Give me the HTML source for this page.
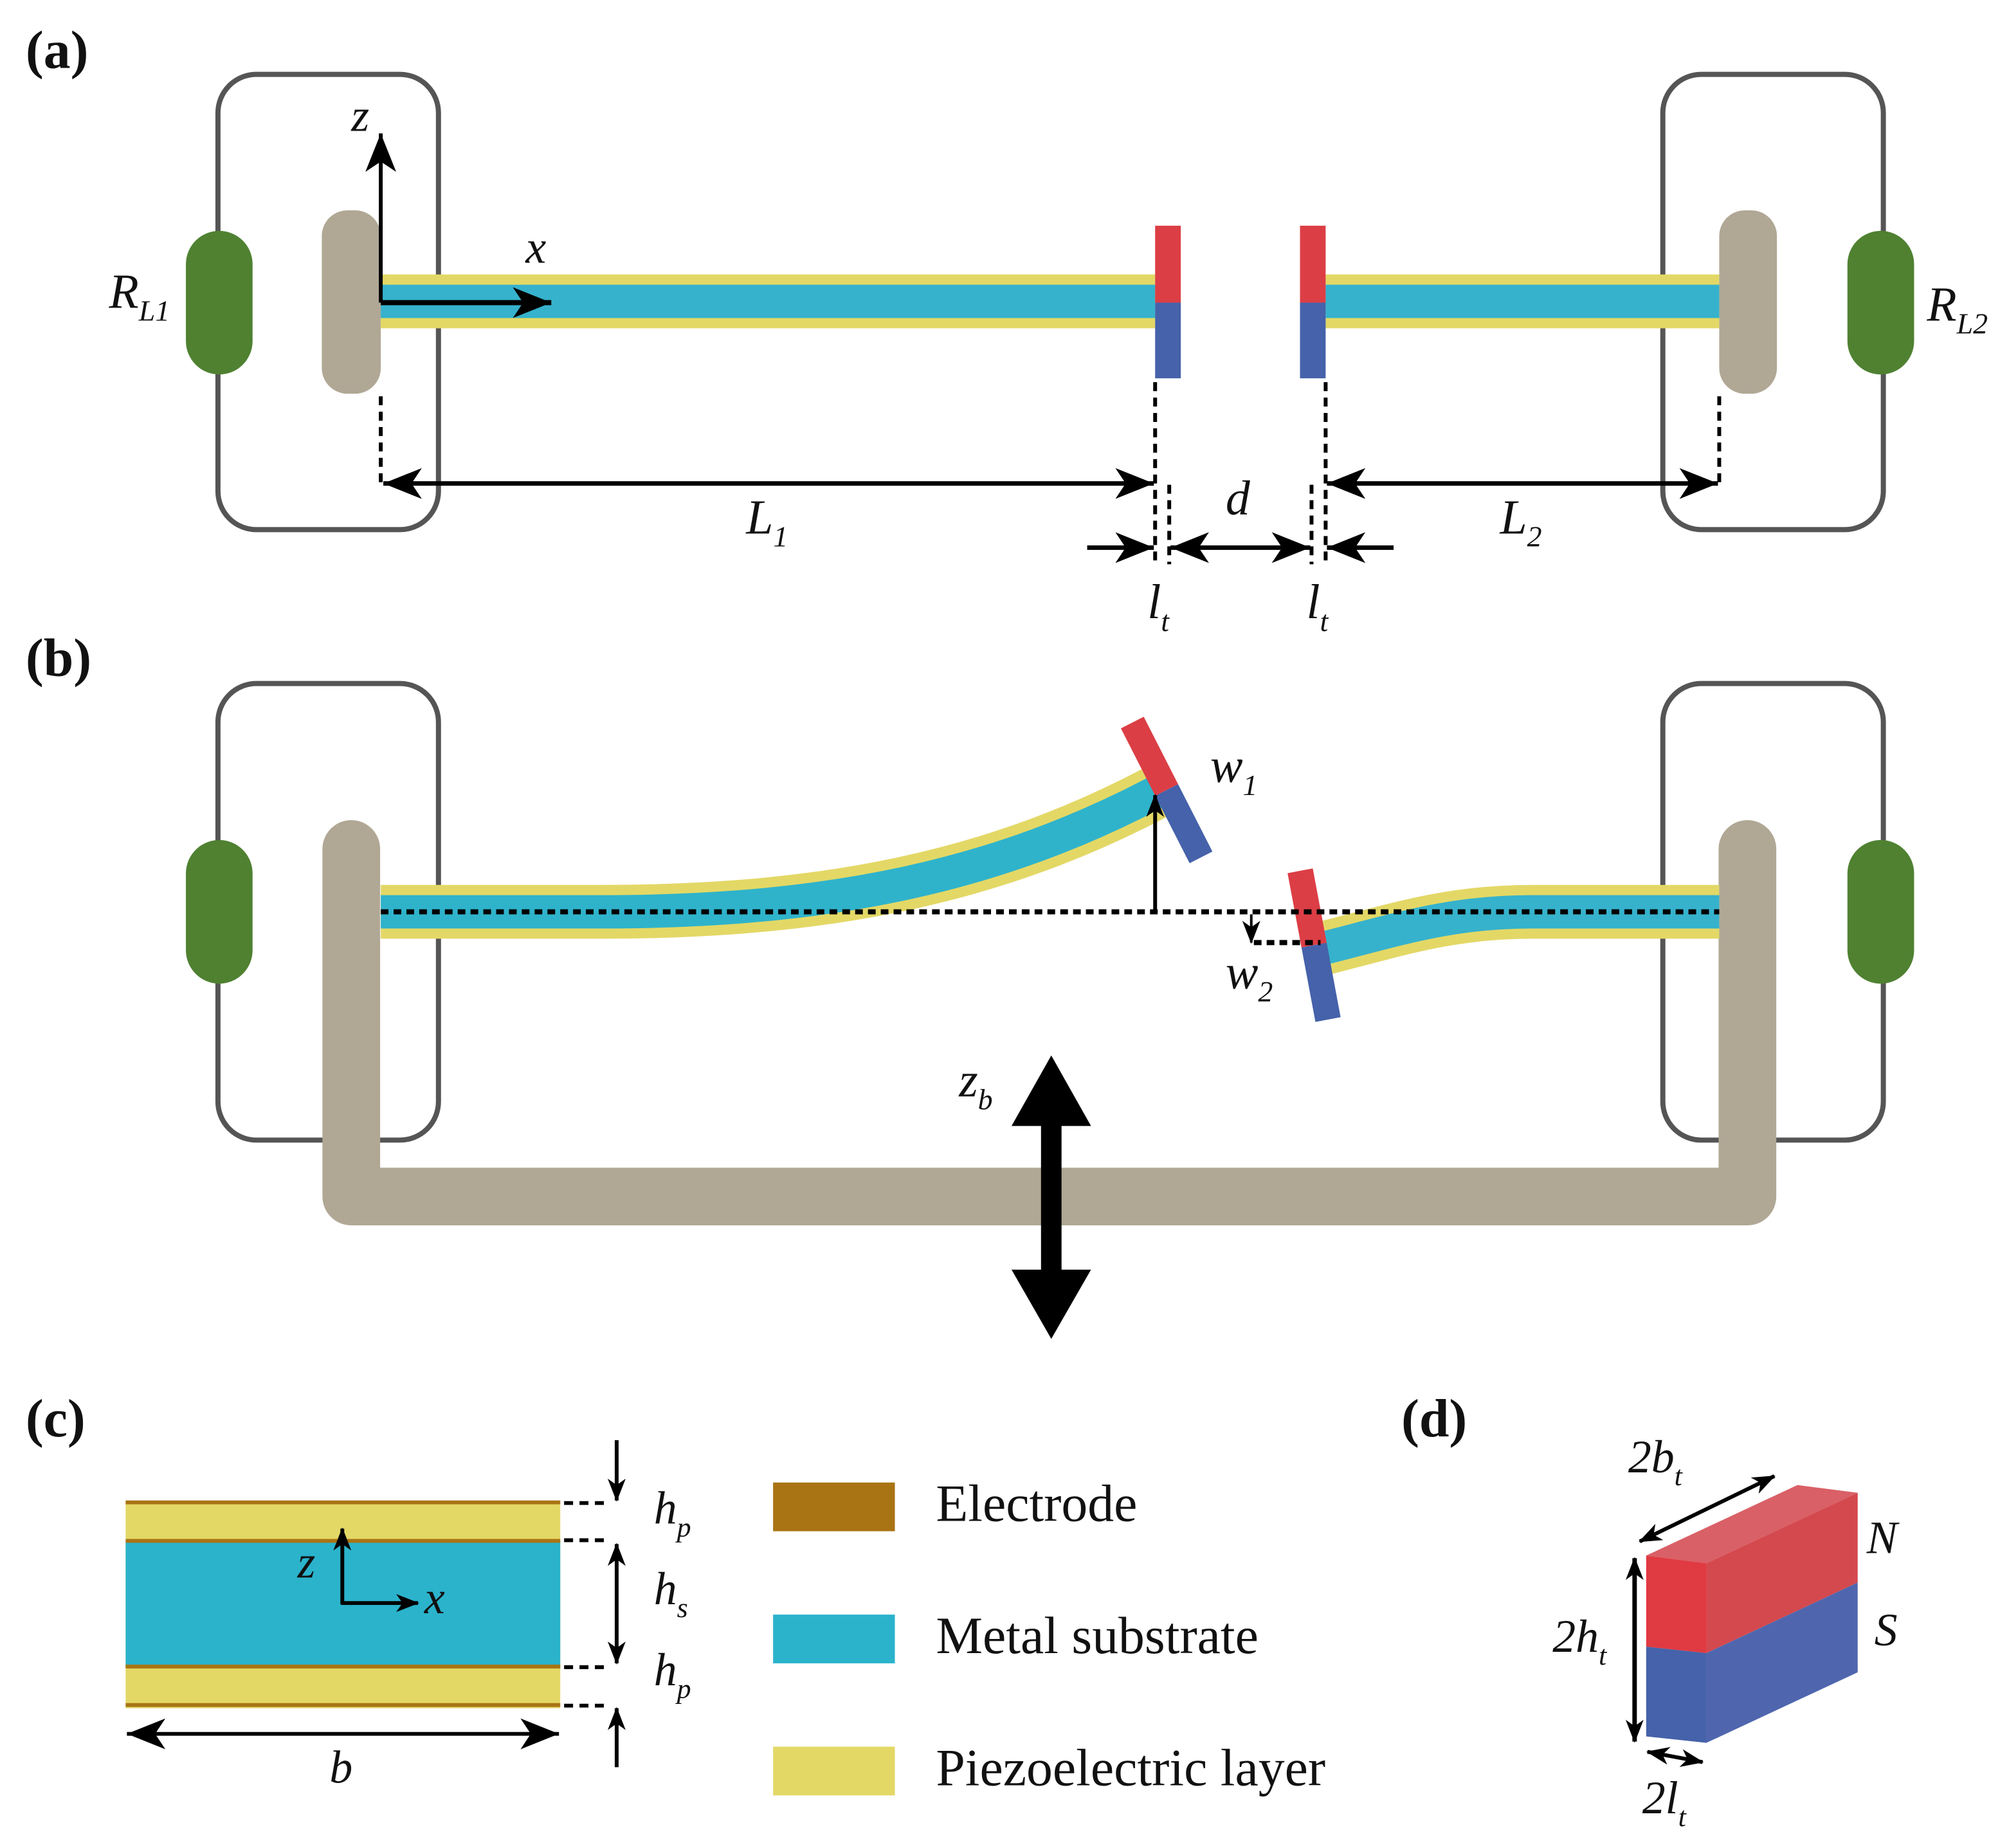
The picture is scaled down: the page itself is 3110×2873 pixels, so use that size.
<!DOCTYPE html>
<html><head><meta charset="utf-8"><style>html,body{margin:0;padding:0;background:#fff}svg{display:block}
text{font-family:"Liberation Serif",serif;fill:#111}
.i{font-style:italic}
</style></head><body>
<svg width="3110" height="2873" viewBox="0 0 1560 1441" preserveAspectRatio="none" xmlns="http://www.w3.org/2000/svg">
<defs>
<marker id="ah" markerUnits="userSpaceOnUse" markerWidth="34" markerHeight="30" refX="30" refY="15" orient="auto-start-reverse"><path d="M0,3 L30,15 L0,27 L8,15 Z" fill="#000"/></marker>
<marker id="as" markerUnits="userSpaceOnUse" markerWidth="20" markerHeight="20" refX="17" refY="10" orient="auto-start-reverse"><path d="M0,3 L18,10 L0,17 L5,10 Z" fill="#000"/></marker>
</defs>
<rect width="1560" height="1441" fill="#fff"/>

<!-- (a) -->
<text x="20" y="53" font-size="42" font-weight="bold">(a)</text>
<rect x="170" y="58" width="172" height="355" rx="30" fill="none" stroke="#555" stroke-width="4"/>
<rect x="1297" y="58" width="172" height="355" rx="30" fill="none" stroke="#555" stroke-width="4"/>
<rect x="145" y="180" width="52" height="112" rx="26" fill="#4f8131"/>
<rect x="1441" y="180" width="52" height="112" rx="26" fill="#4f8131"/>
<rect x="251" y="164" width="46" height="143" rx="20" fill="#b0a895"/>
<rect x="1341" y="164" width="45" height="143" rx="20" fill="#b0a895"/>
<rect x="297" y="214" width="604" height="42" fill="#e3d866"/>
<rect x="297" y="222" width="604" height="26" fill="#36b2cc"/>
<rect x="1034" y="214" width="307" height="42" fill="#e3d866"/>
<rect x="1034" y="222" width="307" height="26" fill="#36b2cc"/>
<rect x="901" y="176" width="20" height="60" fill="#dc3e45"/>
<rect x="901" y="236" width="20" height="59" fill="#4562aa"/>
<rect x="1014" y="176" width="20" height="60" fill="#dc3e45"/>
<rect x="1014" y="236" width="20" height="59" fill="#4562aa"/>
<line x1="297" y1="236" x2="297" y2="104" stroke="#000" stroke-width="3" marker-end="url(#ah)"/>
<line x1="297" y1="236" x2="430" y2="236" stroke="#000" stroke-width="4" marker-end="url(#ah)"/>
<text x="274" y="102" font-size="36" class="i">z</text>
<text x="410" y="205" font-size="36" class="i">x</text>
<text x="85" y="240" font-size="38" class="i">R<tspan font-size="23" dy="10">L1</tspan></text>
<text x="1503" y="250" font-size="38" class="i">R<tspan font-size="23" dy="10">L2</tspan></text>
<g stroke="#000" stroke-width="3" stroke-dasharray="7,5" fill="none">
<line x1="297" y1="309" x2="297" y2="378"/>
<line x1="901" y1="298" x2="901" y2="440"/>
<line x1="912" y1="378" x2="912" y2="440"/>
<line x1="1023" y1="378" x2="1023" y2="440"/>
<line x1="1034" y1="298" x2="1034" y2="440"/>
<line x1="1341" y1="309" x2="1341" y2="378"/>
</g>
<line x1="299" y1="377" x2="900" y2="377" stroke="#000" stroke-width="3.5" marker-start="url(#ah)" marker-end="url(#ah)"/>
<line x1="1035" y1="377" x2="1340" y2="377" stroke="#000" stroke-width="3.5" marker-start="url(#ah)" marker-end="url(#ah)"/>
<line x1="913" y1="427" x2="1022" y2="427" stroke="#000" stroke-width="3.5" marker-start="url(#ah)" marker-end="url(#ah)"/>
<line x1="848" y1="427" x2="900" y2="427" stroke="#000" stroke-width="3.5" marker-end="url(#ah)"/>
<line x1="1087" y1="427" x2="1035" y2="427" stroke="#000" stroke-width="3.5" marker-end="url(#ah)"/>
<text x="582" y="416" font-size="38" class="i">L<tspan font-size="23" dy="10">1</tspan></text>
<text x="1170" y="416" font-size="38" class="i">L<tspan font-size="23" dy="10">2</tspan></text>
<text x="956" y="401" font-size="38" class="i">d</text>
<text x="895" y="482" font-size="38" class="i">l<tspan font-size="23" dy="10">t</tspan></text>
<text x="1019" y="482" font-size="38" class="i">l<tspan font-size="23" dy="10">t</tspan></text>

<!-- (b) -->
<text x="20" y="527" font-size="42" font-weight="bold">(b)</text>
<rect x="170" y="533" width="172" height="356" rx="30" fill="none" stroke="#555" stroke-width="4"/>
<rect x="1297" y="533" width="172" height="356" rx="30" fill="none" stroke="#555" stroke-width="4"/>
<rect x="145" y="655" width="52" height="112" rx="26" fill="#4f8131"/>
<rect x="1441" y="655" width="52" height="112" rx="26" fill="#4f8131"/>
<path d="M274,662 L274,933 L1363,933 L1363,662" fill="none" stroke="#b0a895" stroke-width="45" stroke-linecap="round" stroke-linejoin="round"/>
<path d="M297,711 L470,711 C650,711 780,682 903,617" fill="none" stroke="#e3d866" stroke-width="42"/>
<path d="M297,711 L470,711 C650,711 780,682 903,617" fill="none" stroke="#2fb3cb" stroke-width="26"/>
<path d="M1341,711 L1195,711 C1130,711 1090,725 1030,740" fill="none" stroke="#e3d866" stroke-width="42"/>
<path d="M1341,711 L1195,711 C1130,711 1090,725 1030,740" fill="none" stroke="#36b2cc" stroke-width="26"/>
<g transform="translate(910,616) rotate(-27)">
<rect x="-10" y="-59" width="20" height="59" fill="#dc3e45"/>
<rect x="-10" y="0" width="20" height="59" fill="#4562aa"/>
</g>
<g transform="translate(1025,737) rotate(-10.6)">
<rect x="-10" y="-59" width="20" height="59" fill="#dc3e45"/>
<rect x="-10" y="0" width="20" height="59" fill="#4562aa"/>
</g>
<line x1="297" y1="711" x2="1341" y2="711" stroke="#000" stroke-width="4" stroke-dasharray="6,4"/>
<line x1="901" y1="711" x2="901" y2="620" stroke="#000" stroke-width="3" marker-end="url(#as)"/>
<line x1="976" y1="713" x2="976" y2="735" stroke="#000" stroke-width="2" marker-end="url(#as)"/>
<line x1="978" y1="735" x2="1030" y2="735" stroke="#000" stroke-width="4" stroke-dasharray="6,4"/>
<text x="944" y="610" font-size="38" class="i">w<tspan font-size="23" dy="10">1</tspan></text>
<text x="956" y="771" font-size="38" class="i">w<tspan font-size="23" dy="10">2</tspan></text>
<path d="M820,823 L851,878 L828,878 L828,990 L851,990 L820,1044 L789,990 L812,990 L812,878 L789,878 Z" fill="#000"/>
<text x="748" y="855" font-size="38" class="i">z<tspan font-size="23" dy="10">b</tspan></text>

<!-- (c) -->
<text x="20" y="1120" font-size="42" font-weight="bold">(c)</text>
<rect x="98" y="1171" width="339" height="161" fill="#e3d866"/>
<rect x="98" y="1202" width="339" height="98" fill="#2bb3cc"/>
<g fill="#a97414">
<rect x="98" y="1170" width="339" height="3"/>
<rect x="98" y="1200" width="339" height="3"/>
<rect x="98" y="1298" width="339" height="3"/>
<rect x="98" y="1328" width="339" height="3"/>
</g>
<line x1="267" y1="1251" x2="267" y2="1192" stroke="#000" stroke-width="3" marker-end="url(#as)"/>
<line x1="266" y1="1250" x2="326" y2="1250" stroke="#000" stroke-width="3" marker-end="url(#as)"/>
<text x="232" y="1230" font-size="36" class="i">z</text>
<text x="331" y="1258" font-size="36" class="i">x</text>
<g stroke="#000" stroke-width="3" stroke-dasharray="7,5">
<line x1="440" y1="1172" x2="476" y2="1172"/>
<line x1="440" y1="1201" x2="476" y2="1201"/>
<line x1="440" y1="1300" x2="476" y2="1300"/>
<line x1="440" y1="1330" x2="476" y2="1330"/>
</g>
<line x1="481" y1="1123" x2="481" y2="1170" stroke="#000" stroke-width="3" marker-end="url(#as)"/>
<line x1="481" y1="1204" x2="481" y2="1297" stroke="#000" stroke-width="3" marker-start="url(#as)" marker-end="url(#as)"/>
<line x1="481" y1="1378" x2="481" y2="1332" stroke="#000" stroke-width="3" marker-end="url(#as)"/>
<line x1="99" y1="1352" x2="436" y2="1352" stroke="#000" stroke-width="3" marker-start="url(#ah)" marker-end="url(#ah)"/>
<text x="510" y="1188" font-size="36" class="i">h<tspan font-size="22" dy="10">p</tspan></text>
<text x="510" y="1251" font-size="36" class="i">h<tspan font-size="22" dy="10">s</tspan></text>
<text x="510" y="1314" font-size="36" class="i">h<tspan font-size="22" dy="10">p</tspan></text>
<text x="257" y="1390" font-size="36" class="i">b</text>
<rect x="603" y="1156" width="95" height="38" fill="#a97414"/>
<rect x="603" y="1259" width="95" height="38" fill="#2bb3cc"/>
<rect x="603" y="1362" width="95" height="38" fill="#e3d866"/>
<text x="730" y="1186" font-size="41">Electrode</text>
<text x="730" y="1289" font-size="41">Metal substrate</text>
<text x="730" y="1392" font-size="41">Piezoelectric layer</text>

<!-- (d) -->
<text x="1093" y="1120" font-size="42" font-weight="bold">(d)</text>
<polygon points="1284,1213 1402,1158 1449,1164 1331,1219" fill="#d96066"/>
<polygon points="1331,1219 1449,1164 1449,1234 1331,1289" fill="#d4494e"/>
<polygon points="1331,1289 1449,1234 1449,1304 1331,1359" fill="#4f66ae"/>
<polygon points="1284,1213 1331,1219 1331,1289 1284,1284" fill="#e03a42"/>
<polygon points="1284,1284 1331,1289 1331,1359 1284,1354" fill="#4562aa"/>
<line x1="1279" y1="1202" x2="1384" y2="1151" stroke="#000" stroke-width="3" marker-start="url(#as)" marker-end="url(#as)"/>
<line x1="1275" y1="1215" x2="1275" y2="1358" stroke="#000" stroke-width="3.5" marker-start="url(#as)" marker-end="url(#as)"/>
<line x1="1285" y1="1366" x2="1328" y2="1374" stroke="#000" stroke-width="3" marker-start="url(#as)" marker-end="url(#as)"/>
<text x="1270" y="1148" font-size="36" class="i">2b<tspan font-size="22" dy="10">t</tspan></text>
<text x="1211" y="1288" font-size="36" class="i">2h<tspan font-size="22" dy="10">t</tspan></text>
<text x="1281" y="1414" font-size="36" class="i">2l<tspan font-size="22" dy="10">t</tspan></text>
<text x="1456" y="1211" font-size="36" class="i">N</text>
<text x="1462" y="1283" font-size="36" class="i">S</text>
</svg>
</body></html>
